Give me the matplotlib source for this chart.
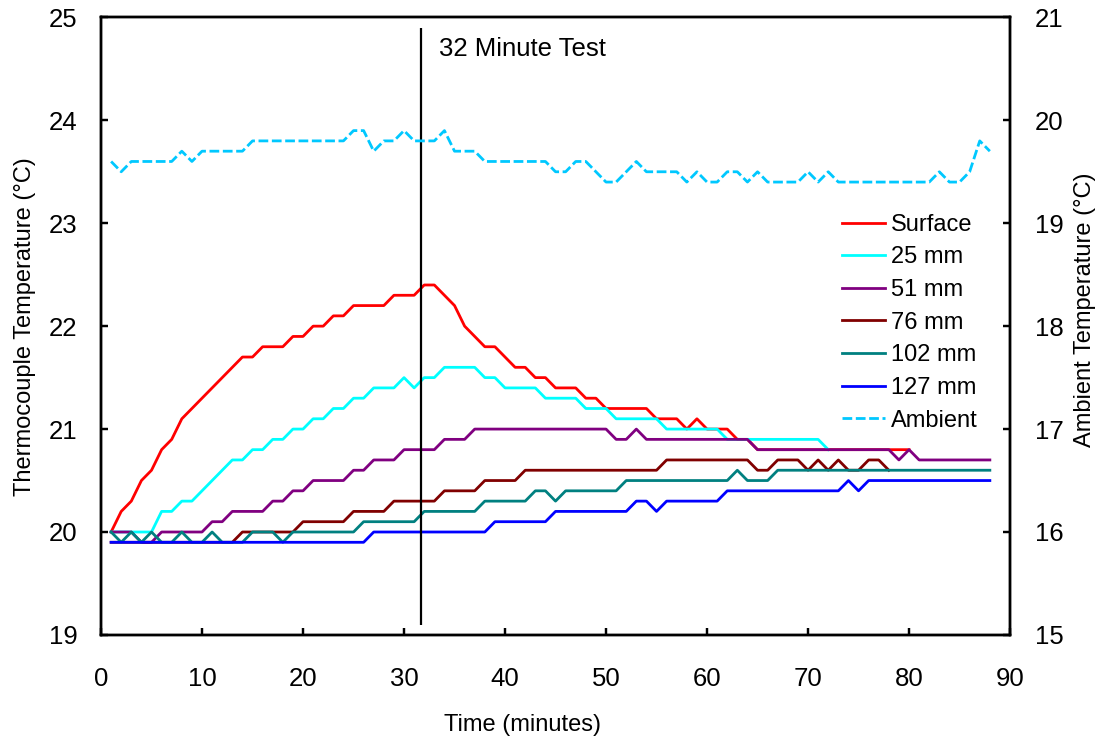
import numpy as np
import matplotlib
matplotlib.use("Agg")
import matplotlib.pyplot as plt

plt.rcParams['font.family'] = ['Liberation Sans', 'DejaVu Sans']

# thermocouple readings, one per minute starting at minute 1 (°C)
surface = [20.0, 20.2, 20.3, 20.5, 20.6, 20.8, 20.9, 21.1, 21.2, 21.3,
           21.4, 21.5, 21.6, 21.7, 21.7, 21.8, 21.8, 21.8, 21.9, 21.9,
           22.0, 22.0, 22.1, 22.1, 22.2, 22.2, 22.2, 22.2, 22.3, 22.3,
           22.3, 22.4, 22.4, 22.3, 22.2, 22.0, 21.9, 21.8, 21.8, 21.7,
           21.6, 21.6, 21.5, 21.5, 21.4, 21.4, 21.4, 21.3, 21.3, 21.2,
           21.2, 21.2, 21.2, 21.2, 21.1, 21.1, 21.1, 21.0, 21.1, 21.0,
           21.0, 21.0, 20.9, 20.9, 20.8, 20.8, 20.8, 20.8, 20.8, 20.8,
           20.8, 20.8, 20.8, 20.8, 20.8, 20.8, 20.8, 20.8, 20.8, 20.8]

mm25 = [20.0, 20.0, 20.0, 20.0, 20.0, 20.2, 20.2, 20.3, 20.3, 20.4,
        20.5, 20.6, 20.7, 20.7, 20.8, 20.8, 20.9, 20.9, 21.0, 21.0,
        21.1, 21.1, 21.2, 21.2, 21.3, 21.3, 21.4, 21.4, 21.4, 21.5,
        21.4, 21.5, 21.5, 21.6, 21.6, 21.6, 21.6, 21.5, 21.5, 21.4,
        21.4, 21.4, 21.4, 21.3, 21.3, 21.3, 21.3, 21.2, 21.2, 21.2,
        21.1, 21.1, 21.1, 21.1, 21.1, 21.0, 21.0, 21.0, 21.0, 21.0,
        21.0, 20.9, 20.9, 20.9, 20.9, 20.9, 20.9, 20.9, 20.9, 20.9,
        20.9, 20.8]

mm51 = [20.0, 20.0, 20.0, 19.9, 19.9, 20.0, 20.0, 20.0, 20.0, 20.0,
        20.1, 20.1, 20.2, 20.2, 20.2, 20.2, 20.3, 20.3, 20.4, 20.4,
        20.5, 20.5, 20.5, 20.5, 20.6, 20.6, 20.7, 20.7, 20.7, 20.8,
        20.8, 20.8, 20.8, 20.9, 20.9, 20.9, 21.0, 21.0, 21.0, 21.0,
        21.0, 21.0, 21.0, 21.0, 21.0, 21.0, 21.0, 21.0, 21.0, 21.0,
        20.9, 20.9, 21.0, 20.9, 20.9, 20.9, 20.9, 20.9, 20.9, 20.9,
        20.9, 20.9, 20.9, 20.9, 20.8, 20.8, 20.8, 20.8, 20.8, 20.8,
        20.8, 20.8, 20.8, 20.8, 20.8, 20.8, 20.8, 20.8, 20.7, 20.8,
        20.7, 20.7, 20.7, 20.7, 20.7, 20.7, 20.7, 20.7]

mm76 = [19.9, 19.9, 19.9, 19.9, 19.9, 19.9, 19.9, 19.9, 19.9, 19.9,
        19.9, 19.9, 19.9, 20.0, 20.0, 20.0, 20.0, 20.0, 20.0, 20.1,
        20.1, 20.1, 20.1, 20.1, 20.2, 20.2, 20.2, 20.2, 20.3, 20.3,
        20.3, 20.3, 20.3, 20.4, 20.4, 20.4, 20.4, 20.5, 20.5, 20.5,
        20.5, 20.6, 20.6, 20.6, 20.6, 20.6, 20.6, 20.6, 20.6, 20.6,
        20.6, 20.6, 20.6, 20.6, 20.6, 20.7, 20.7, 20.7, 20.7, 20.7,
        20.7, 20.7, 20.7, 20.7, 20.6, 20.6, 20.7, 20.7, 20.7, 20.6,
        20.7, 20.6, 20.7, 20.6, 20.6, 20.7, 20.7, 20.6]

mm102 = [20.0, 19.9, 20.0, 19.9, 20.0, 19.9, 19.9, 20.0, 19.9, 19.9,
         20.0, 19.9, 19.9, 19.9, 20.0, 20.0, 20.0, 19.9, 20.0, 20.0,
         20.0, 20.0, 20.0, 20.0, 20.0, 20.1, 20.1, 20.1, 20.1, 20.1,
         20.1, 20.2, 20.2, 20.2, 20.2, 20.2, 20.2, 20.3, 20.3, 20.3,
         20.3, 20.3, 20.4, 20.4, 20.3, 20.4, 20.4, 20.4, 20.4, 20.4,
         20.4, 20.5, 20.5, 20.5, 20.5, 20.5, 20.5, 20.5, 20.5, 20.5,
         20.5, 20.5, 20.6, 20.5, 20.5, 20.5, 20.6, 20.6, 20.6, 20.6,
         20.6, 20.6, 20.6, 20.6, 20.6, 20.6, 20.6, 20.6, 20.6, 20.6,
         20.6, 20.6, 20.6, 20.6, 20.6, 20.6, 20.6, 20.6]

mm127 = [19.9] * 26 + [20.0] * 12 + [20.1] * 6 + [20.2] * 8 + \
        [20.3, 20.3, 20.2] + [20.3] * 6 + [20.4] * 12 + [20.5, 20.4] + [20.5] * 13

# ambient air temperature, right axis
ambient = [19.6, 19.5, 19.6, 19.6, 19.6, 19.6, 19.6, 19.7, 19.6, 19.7,
           19.7, 19.7, 19.7, 19.7, 19.8, 19.8, 19.8, 19.8, 19.8, 19.8,
           19.8, 19.8, 19.8, 19.8, 19.9, 19.9, 19.7, 19.8, 19.8, 19.9,
           19.8, 19.8, 19.8, 19.9, 19.7, 19.7, 19.7, 19.6, 19.6, 19.6,
           19.6, 19.6, 19.6, 19.6, 19.5, 19.5, 19.6, 19.6, 19.5, 19.4,
           19.4, 19.5, 19.6, 19.5, 19.5, 19.5, 19.5, 19.4, 19.5, 19.4,
           19.4, 19.5, 19.5, 19.4, 19.5, 19.4, 19.4, 19.4, 19.4, 19.5,
           19.4, 19.5, 19.4, 19.4, 19.4, 19.4, 19.4, 19.4, 19.4, 19.4,
           19.4, 19.4, 19.5, 19.4, 19.4, 19.5, 19.8, 19.7]

series = [("Surface", surface, "#FF0000"),
          ("25 mm", mm25, "#00FFFF"),
          ("51 mm", mm51, "#800080"),
          ("76 mm", mm76, "#800000"),
          ("102 mm", mm102, "#008080"),
          ("127 mm", mm127, "#0000FF")]

test_minute = 31.7          # end of the 32 minute test
test_line_span = (19.1, 24.9)

minutes = np.arange(1, 89)

fig = plt.figure(figsize=(11.04, 7.4), dpi=100)
ax = fig.add_axes([0.0915, 0.142, 0.8234, 0.8345])
ax2 = ax.twinx()

handles = []
for name, vals, col in series:
    h, = ax.plot(minutes[:len(vals)], vals, color=col, lw=2.0, label=name,
                 solid_joinstyle='round')
    handles.append(h)

ax.vlines(test_minute, *test_line_span, color='black', lw=1.6, zorder=5)
ax.text(33.5, 24.69, "32 Minute Test", fontsize=18.5, va='center', ha='left')

h_amb, = ax2.plot(minutes[:len(ambient)], ambient, color='#00C8FF', lw=2.0,
                  linestyle=(0, (3.5, 1.3)), label="Ambient")
handles.append(h_amb)

ax.set_xlim(0, 90)
ax.set_ylim(19, 25)
ax2.set_ylim(15, 21)
ax.set_xticks(range(0, 91, 10))
ax.set_yticks(range(19, 26))
ax2.set_yticks(range(15, 22))

for a in (ax, ax2):
    for s in a.spines.values():
        s.set_linewidth(1.75)
ax.tick_params(axis='both', direction='in', length=5, width=1.75, labelsize=18.5)
ax.tick_params(axis='x', pad=23)
ax.tick_params(axis='y', pad=17)
ax2.tick_params(axis='y', direction='in', length=5, width=1.75, labelsize=18.5, pad=18)

ax.set_xlabel("Time (minutes)", fontsize=17, labelpad=17.5)
ax.xaxis.set_label_coords(0.464, -0.128)
ax.set_ylabel("Thermocouple Temperature (°C)", fontsize=17, labelpad=9)
ax2.set_ylabel("Ambient Temperature (°C)", fontsize=17, labelpad=8)
ax2.yaxis.set_label_coords(1.070, 0.526)

ax2.legend(handles=handles, loc='upper left', bbox_to_anchor=(0.815, 0.682),
           frameon=False, fontsize=17, handlelength=1.82, handletextpad=0.24,
           labelspacing=0.45, borderpad=0, borderaxespad=0)

fig.savefig("out.png", dpi=100)
